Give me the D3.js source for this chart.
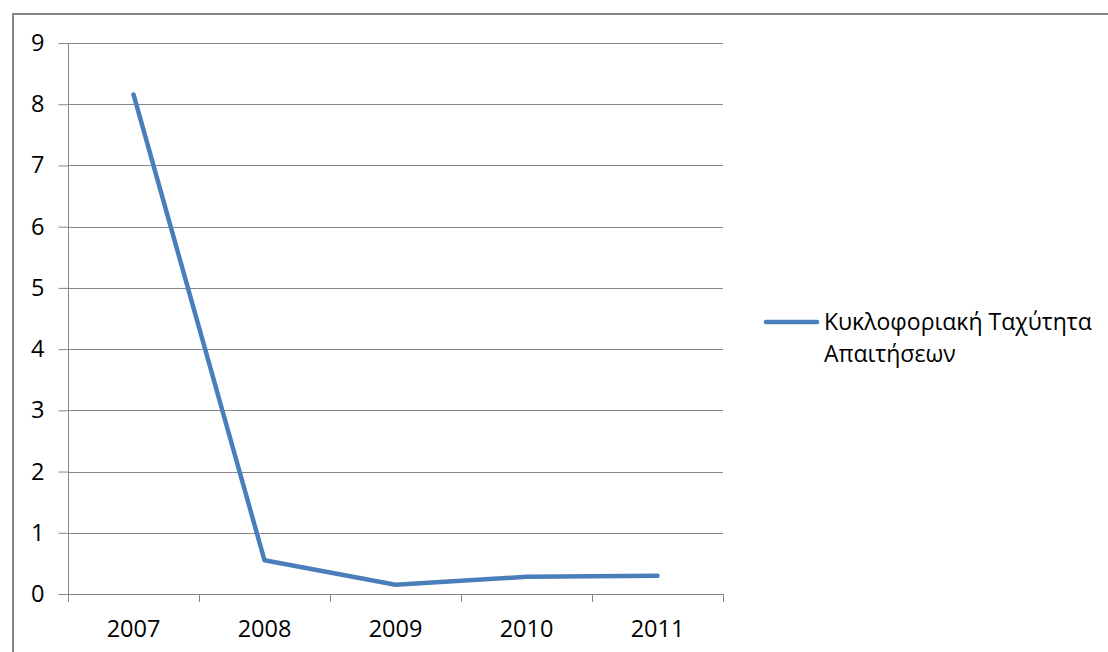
<!DOCTYPE html>
<html>
<head>
<meta charset="utf-8">
<script src="https://cdn.jsdelivr.net/npm/d3@7"></script>
<style>
  html, body { margin: 0; padding: 0; background: #fff; }
  svg { display: block; }
  text { font-family: "Open Sans", "Noto Sans", sans-serif; fill: #000; }
</style>
</head>
<body>
<svg id="chart" width="1108" height="652"></svg>
<script>
// Receivables turnover ratio by year
const years = ["2007", "2008", "2009", "2010", "2011"];
const turnover = [8.16, 0.55, 0.15, 0.28, 0.30];
const yTicks = [0, 1, 2, 3, 4, 5, 6, 7, 8, 9];
const seriesName = ["Κυκλοφοριακή Ταχύτητα", "Απαιτήσεων"];

const svg = d3.select("#chart");
const labelSize = 23.5;

// outer chart frame
svg.append("rect")
  .attr("x", 13).attr("y", 14)
  .attr("width", 1120).attr("height", 660)
  .attr("fill", "none").attr("stroke", "#868686").attr("stroke-width", 2);

const plot = { left: 68, right: 723, top: 43, bottom: 594 };

const x = d3.scaleBand().domain(years).range([plot.left, plot.right]);
const y = d3.scaleLinear().domain([0, 9]).range([plot.bottom, plot.top]);

// horizontal gridlines
svg.append("g").selectAll("line").data(yTicks.filter(d => d > 0)).join("line")
  .attr("x1", plot.left).attr("x2", plot.right)
  .attr("y1", d => Math.round(y(d)) + 0.5).attr("y2", d => Math.round(y(d)) + 0.5)
  .attr("stroke", "#878787").attr("stroke-width", 1);

// y axis
const yAxis = svg.append("g")
  .attr("transform", `translate(${plot.left + 0.5},0)`)
  .call(d3.axisLeft(y).tickValues(yTicks).tickSize(10).tickPadding(14).tickFormat(d3.format("d")));
yAxis.select(".domain").attr("stroke", "#878787").attr("d", `M0,${plot.top}V${plot.bottom}`);
yAxis.selectAll(".tick line").attr("stroke", "#878787");
yAxis.selectAll(".tick text").attr("font-size", labelSize).attr("font-family", "'Open Sans', sans-serif").attr("fill", "#000");

// x axis
const xAxis = svg.append("g")
  .attr("transform", `translate(0,${plot.bottom + 0.5})`)
  .call(d3.axisBottom(x).tickSize(0).tickPadding(26));
xAxis.select(".domain").attr("stroke", "#878787").attr("d", `M${plot.left},0H${plot.right}`);
xAxis.selectAll(".tick text").attr("font-size", labelSize).attr("font-family", "'Open Sans', sans-serif").attr("fill", "#000");

// category boundary ticks
const bounds = years.map(d => x(d)).concat([plot.right]);
svg.append("g").selectAll("line").data(bounds).join("line")
  .attr("x1", d => Math.round(d) + 0.5).attr("x2", d => Math.round(d) + 0.5)
  .attr("y1", plot.bottom).attr("y2", plot.bottom + 8)
  .attr("stroke", "#878787");

// series line
const line = d3.line()
  .x((d, i) => x(years[i]) + x.bandwidth() / 2)
  .y(d => y(d));
svg.append("path")
  .datum(turnover)
  .attr("d", line)
  .attr("fill", "none")
  .attr("stroke", "#4A7EBB")
  .attr("stroke-width", 4.5)
  .attr("stroke-linejoin", "round")
  .attr("stroke-linecap", "round");

// legend
const legend = svg.append("g");
legend.append("line")
  .attr("x1", 766).attr("x2", 817).attr("y1", 322).attr("y2", 322)
  .attr("stroke", "#4A7EBB").attr("stroke-width", 4.5).attr("stroke-linecap", "round");
const legendText = legend.selectAll("text").data(seriesName).join("text")
  .attr("x", 824).attr("y", (d, i) => 330 + i * 32)
  .attr("font-size", 22)
  .text(d => d);
// keep the first legend line within the frame's right margin
const firstWidth = legendText.node().getComputedTextLength();
const fitSize = Math.min(23, 22 * 273 / firstWidth);
legendText.attr("font-size", fitSize);
</script>
</body>
</html>
